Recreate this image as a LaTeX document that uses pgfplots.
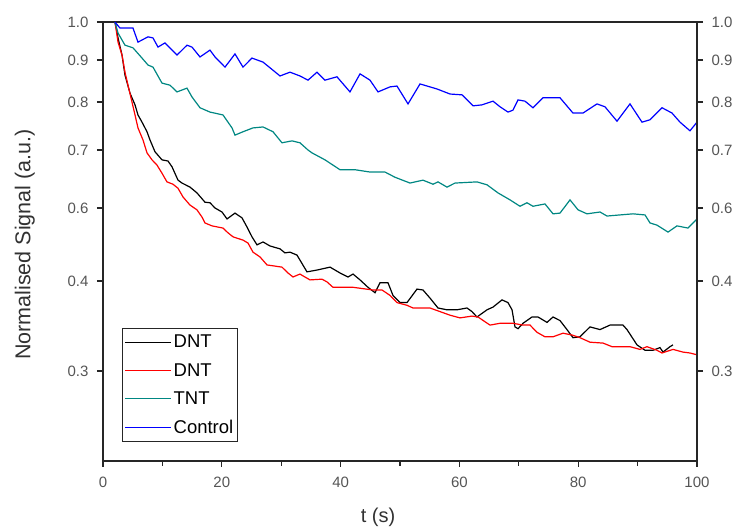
\documentclass[border=0pt]{standalone}
\usepackage{fontspec}
\setmainfont{Liberation Sans}
\usepackage{pgfplots}
\pgfplotsset{compat=1.18}
\definecolor{tealc}{RGB}{0,135,130}
\definecolor{tickgray}{RGB}{85,85,85}
\definecolor{lblgray}{RGB}{50,50,50}
% piecewise mapping of the chart's irregular y scale
\pgfplotsset{y coord trafo/.code={\pgfmathparse{((#1)>=0.9)*(401+((#1)-0.9)*380)+((#1)<0.9)*((#1)>=0.8)*(359+((#1)-0.8)*420)+((#1)<0.8)*((#1)>=0.7)*(311+((#1)-0.7)*480)+((#1)<0.7)*((#1)>=0.6)*(253+((#1)-0.6)*580)+((#1)<0.6)*((#1)>=0.4)*(180+((#1)-0.4)*365)+((#1)<0.4)*(90+((#1)-0.3)*900)}}}
\pgfplotsset{common/.style={
  scale only axis, width=594pt, height=439pt,
  xmin=0, xmax=100, ymin=0.2, ymax=1.0,
  ytick={0.3,0.4,0.6,0.7,0.8,0.9,1.0},
  yticklabels={0.3,0.4,0.6,0.7,0.8,0.9,1.0},
  tick align=outside,
  major tick length=6pt,
  minor tick length=5pt,
  tick style={line width=1.1pt, black!85},
  axis line style={line width=1.1pt, black!85},
  /pgf/number format/assume math mode=true,
  ticklabel style={font=\fontsize{15}{17}\selectfont, text=tickgray},
}}
\pgfplotstableread{
t v
2.0 1.0
2.36 0.974
2.53 0.958
3.20 0.913
3.70 0.864
4.55 0.821
5.39 0.794
5.89 0.773
6.57 0.758
7.41 0.738
7.91 0.721
8.75 0.697
9.93 0.683
10.94 0.681
11.62 0.671
12.63 0.648
13.30 0.643
14.65 0.636
15.82 0.626
17.17 0.610
18.01 0.609
18.86 0.600
20.03 0.589
20.88 0.570
22.22 0.586
23.40 0.573
24.24 0.548
25.08 0.521
25.93 0.499
26.94 0.507
28.11 0.496
29.80 0.488
30.64 0.477
31.48 0.479
32.66 0.471
34.34 0.425
36.03 0.430
38.22 0.438
39.90 0.422
41.25 0.411
42.09 0.419
43.27 0.403
44.61 0.393
45.79 0.387
46.63 0.398
47.98 0.398
48.82 0.384
50.00 0.376
51.18 0.376
52.86 0.391
53.87 0.390
55.05 0.381
56.40 0.370
57.91 0.368
59.60 0.368
61.28 0.370
62.12 0.366
62.96 0.360
64.65 0.368
65.66 0.371
67.17 0.379
68.18 0.376
68.86 0.368
69.36 0.349
69.87 0.347
70.71 0.353
72.22 0.360
73.23 0.360
74.75 0.354
75.76 0.360
76.94 0.356
78.11 0.346
79.12 0.337
80.30 0.338
81.99 0.349
83.67 0.346
85.35 0.351
87.54 0.351
88.22 0.346
89.90 0.329
91.25 0.323
92.59 0.323
93.77 0.326
94.28 0.321
95.45 0.327
95.96 0.329
}\dntA
\pgfplotstableread{
t v
2.02 1.0
2.53 0.947
3.20 0.913
3.70 0.871
4.21 0.840
4.88 0.800
5.39 0.773
5.89 0.746
6.73 0.721
7.41 0.695
8.25 0.683
9.09 0.674
9.93 0.660
10.77 0.645
11.78 0.641
12.63 0.634
13.47 0.619
14.65 0.605
15.82 0.595
16.67 0.575
17.17 0.559
18.35 0.551
20.20 0.545
21.04 0.532
21.89 0.521
23.57 0.512
24.41 0.504
25.25 0.479
26.43 0.466
27.61 0.444
30.13 0.438
31.14 0.422
31.99 0.411
33.16 0.419
33.67 0.414
34.85 0.403
36.87 0.405
37.71 0.399
38.72 0.393
42.09 0.393
45.45 0.390
46.97 0.390
48.32 0.384
49.49 0.376
51.18 0.373
52.19 0.370
55.05 0.370
56.73 0.366
58.42 0.362
60.10 0.359
62.12 0.361
63.13 0.360
65.15 0.351
66.84 0.353
69.02 0.353
70.71 0.351
71.89 0.351
73.06 0.343
74.41 0.338
75.76 0.338
77.44 0.342
78.96 0.340
80.30 0.337
81.99 0.332
84.18 0.331
85.69 0.327
88.72 0.327
90.40 0.324
91.58 0.327
93.27 0.323
94.11 0.320
95.96 0.324
97.64 0.321
98.82 0.320
100.0 0.318
}\dntB
\pgfplotstableread{
t v
2.0 1.0
2.53 0.971
3.70 0.939
5.05 0.932
6.57 0.905
7.58 0.888
8.42 0.883
9.93 0.845
11.28 0.840
12.46 0.824
14.14 0.833
14.98 0.812
16.33 0.788
18.01 0.779
20.20 0.773
21.72 0.746
22.22 0.731
23.57 0.738
25.25 0.746
26.94 0.748
28.62 0.738
30.13 0.715
31.82 0.719
33.16 0.715
34.51 0.700
35.19 0.695
37.37 0.683
39.90 0.666
42.42 0.666
44.95 0.662
47.47 0.662
49.16 0.653
51.18 0.645
51.68 0.643
53.87 0.648
55.56 0.641
56.40 0.645
57.91 0.636
59.26 0.643
62.96 0.645
64.65 0.640
66.50 0.626
68.52 0.614
70.20 0.603
71.38 0.609
72.39 0.603
74.41 0.607
75.76 0.584
76.94 0.586
78.62 0.614
79.97 0.595
81.48 0.584
83.67 0.589
84.85 0.578
87.04 0.581
89.23 0.584
91.25 0.581
92.09 0.559
93.27 0.553
95.12 0.534
96.63 0.551
98.48 0.545
100.0 0.570
}\tnt
\pgfplotstableread{
t v
2.0 1.0
2.86 0.984
5.05 0.984
5.89 0.947
7.58 0.961
8.42 0.958
9.26 0.934
10.44 0.945
11.62 0.926
12.46 0.913
14.14 0.939
14.98 0.934
16.33 0.908
18.01 0.926
18.86 0.908
20.54 0.883
22.22 0.916
23.57 0.883
25.08 0.905
26.94 0.895
29.80 0.862
31.48 0.871
33.16 0.862
34.51 0.852
36.03 0.871
37.37 0.852
39.39 0.860
41.58 0.824
43.27 0.867
44.95 0.852
46.30 0.824
48.32 0.836
49.49 0.838
51.35 0.796
53.37 0.843
56.23 0.831
58.42 0.819
60.44 0.817
62.29 0.792
63.80 0.794
65.66 0.802
66.84 0.790
68.18 0.779
69.02 0.783
69.87 0.805
71.04 0.802
72.39 0.788
74.07 0.810
76.94 0.810
79.12 0.777
80.81 0.777
83.16 0.796
84.51 0.790
86.53 0.760
88.72 0.796
90.74 0.758
92.09 0.763
94.11 0.788
95.79 0.777
97.14 0.758
98.82 0.740
100.0 0.758
}\control
\begin{document}
\begin{tikzpicture}
\begin{axis}[common,
  xtick pos=bottom, ytick pos=left,
  xtick={0,20,40,60,80,100},
  minor x tick num=1,
  xticklabel style={yshift=-6pt},
  yticklabel style={xshift=-5pt},
  xlabel={t (s)},
  ylabel={Normalised Signal (a.u.)},
  xlabel style={font=\fontsize{20}{22}\selectfont, text=lblgray, inner sep=0pt, at={(axis description cs:0.463,-0.107)}, anchor=north},
  ylabel style={font=\fontsize{21.5}{23}\selectfont, text=lblgray, inner sep=0pt, at={(axis description cs:-0.1145,0.493)}, anchor=south},
  legend style={at={(axis description cs:0.032,0.043)}, anchor=south west,
    draw=black!85, line width=0.9pt, font=\fontsize{18.5}{20}\selectfont,
    inner xsep=2pt, inner ysep=5pt, row sep=10pt,
    nodes={inner sep=2pt},
    /tikz/every even column/.style={column sep=3pt}},
  legend cell align=left,
  legend image code/.code={\draw[mark repeat=2,mark phase=2,#1] plot coordinates {(0pt,0pt) (23pt,0pt) (46pt,0pt)};},
]
\addplot[black, line width=1.2pt] table[x=t, y=v] {\dntA};
\addlegendentry{DNT}
\addplot[red, line width=1.2pt] table[x=t, y=v] {\dntB};
\addlegendentry{DNT}
\addplot[tealc, line width=1.2pt] table[x=t, y=v] {\tnt};
\addlegendentry{TNT}
\addplot[blue, line width=1.2pt] table[x=t, y=v] {\control};
\addlegendentry{Control}
\end{axis}
\begin{axis}[common,
  axis x line=none, axis y line*=right,
  yticklabel pos=right,
  yticklabel style={xshift=5pt},
]
\end{axis}
\pgfresetboundingbox
\path (-103pt,-69pt) rectangle (634pt,461pt);
\end{tikzpicture}
\end{document}
